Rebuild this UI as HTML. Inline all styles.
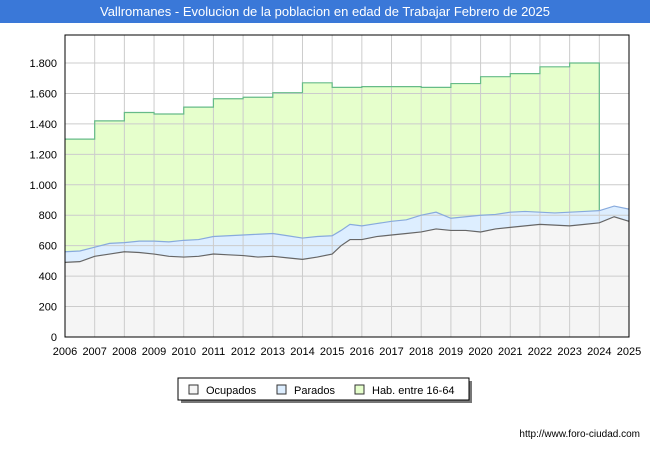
<!DOCTYPE html>
<html><head><meta charset="utf-8"><style>
body{margin:0;background:#fff;font-family:"Liberation Sans",sans-serif;}
</style></head><body>
<svg width="650" height="450" xmlns="http://www.w3.org/2000/svg" style="font-family:'Liberation Sans',sans-serif">
<rect x="0" y="0" width="650" height="23" fill="#3a78d8"/>
<text x="325" y="16" text-anchor="middle" font-size="13" fill="#fff">Vallromanes - Evolucion de la poblacion en edad de Trabajar Febrero de 2025</text>
<g id="plot"></g>
<g>
<rect x="181" y="381" width="291" height="22" fill="#777"/>
<rect x="178" y="378" width="291" height="22" fill="#fff" stroke="#000" stroke-width="1"/>
<rect x="189" y="385" width="9" height="9" fill="#f5f5f5" stroke="#333"/>
<text x="206" y="394" font-size="11">Ocupados</text>
<rect x="277" y="385" width="9" height="9" fill="#ddeeff" stroke="#333"/>
<text x="294" y="394" font-size="11">Parados</text>
<rect x="355" y="385" width="9" height="9" fill="#e6ffcc" stroke="#333"/>
<text x="372" y="394" font-size="11">Hab. entre 16-64</text>
</g>
<text x="640" y="437" text-anchor="end" font-size="10">http://www.foro-ciudad.com</text>
</svg>
<script>
const yTicks=[0,200,400,600,800,1000,1200,1400,1600,1800];
const yTickLabels=["0","200","400","600","800","1.000","1.200","1.400","1.600","1.800"];
const years=[2006,2007,2008,2009,2010,2011,2012,2013,2014,2015,2016,2017,2018,2019,2020,2021,2022,2023,2024,2025];
const habValues=[1300,1420,1475,1465,1510,1565,1575,1605,1670,1640,1645,1645,1640,1665,1710,1730,1775,1800];
const serTimes=[2006,2006.5,2007,2007.5,2008,2008.5,2009,2009.5,2010,2010.5,2011,2011.5,2012,2012.5,2013,2013.5,2014,2014.5,2015,2015.3,2015.6,2016,2016.5,2017,2017.5,2018,2018.5,2019,2019.5,2020,2020.5,2021,2021.5,2022,2022.5,2023,2023.5,2024,2024.5,2025];
const ocupados=[490,495,530,545,560,555,545,530,525,530,545,540,535,525,530,520,510,525,545,600,640,640,660,670,680,690,710,700,700,690,710,720,730,740,735,730,740,750,790,760];
const totales=[560,565,590,615,620,630,630,625,635,640,660,665,670,675,680,665,650,660,665,700,740,730,745,760,770,800,820,780,790,800,805,820,825,820,815,820,825,830,860,840];
const X0=65,X1=629,Y0=337,YT=63;
const sx=v=>X0+(v-2006)/(2025-2006)*(X1-X0);
const sy=v=>Y0-v/1800*(Y0-YT);
const g=document.getElementById('plot');
const NS='http://www.w3.org/2000/svg';
function mk(t,a){const e=document.createElementNS(NS,t);for(const k in a)e.setAttribute(k,a[k]);g.appendChild(e);return e;}
const bg=mk('rect',{x:X0,y:35,width:X1-X0,height:Y0-35,fill:'#fff',stroke:'none'});


// hab area (step)
let hp=`M${sx(2006)},${sy(0)}`;
habValues.forEach((v,i)=>{hp+=` L${sx(years[i])},${sy(v)} L${sx(years[i+1])},${sy(v)}`;});
hp+=` L${sx(2024)},${sy(0)} Z`;
const ha=mk('path',{d:hp,fill:'#e6ffcc',stroke:'none'});


function area(vals,fill){let d=`M${sx(serTimes[0])},${sy(0)}`;vals.forEach((v,i)=>d+=` L${sx(serTimes[i])},${sy(v)}`);d+=` L${sx(serTimes[serTimes.length-1])},${sy(0)} Z`;return mk('path',{d,fill,stroke:'none'});}
function line(vals,stroke){return mk('polyline',{points:vals.map((v,i)=>sx(serTimes[i])+','+sy(v)).join(' '),fill:'none',stroke,'stroke-width':1.2});}
const pa=area(totales,'#ddeeff');


const oa=area(ocupados,'#f5f5f5');


// grid
yTicks.forEach((t,i)=>{const l=mk('line',{x1:X0,x2:X1,y1:sy(t),y2:sy(t),stroke:'#ccc','stroke-width':1});


const tx=mk('text',{x:X0-8,y:sy(t)+4,'text-anchor':'end','font-size':11});tx.textContent=yTickLabels[i];

});
years.forEach(yr=>{const l=mk('line',{x1:sx(yr),x2:sx(yr),y1:35,y2:Y0,stroke:'#ccc','stroke-width':1});


const tx=mk('text',{x:sx(yr),y:Y0+18,'text-anchor':'middle','font-size':11});tx.textContent=yr;

});
// hab line
let hl=`M${sx(2006)},${sy(habValues[0])}`;
habValues.forEach((v,i)=>{hl+=` L${sx(years[i])},${sy(v)} L${sx(years[i+1])},${sy(v)}`;});
hl+=` L${sx(2024)},${sy(totales[37])}`;
const hline=mk('path',{d:hl,fill:'none',stroke:'#66bb88','stroke-width':1.2});


const pl=line(totales,'#88aadd');


const ol=line(ocupados,'#666');


const fr=mk('rect',{x:X0,y:35,width:X1-X0,height:Y0-35,fill:'none',stroke:'#000','stroke-width':1});


</script>
</body></html>
